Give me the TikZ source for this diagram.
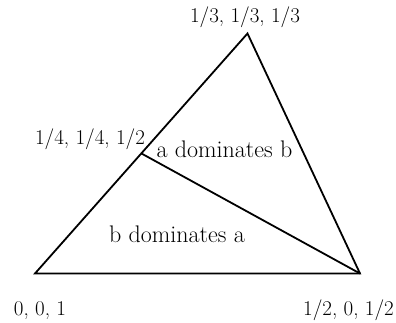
\documentclass[tikz,border=0pt]{standalone}
\usetikzlibrary{positioning}
\begin{document}
\begin{tikzpicture}[x=1pt, y=-1pt, every node/.style={font=\fontsize{21}{23}\selectfont, inner sep=0pt, anchor=base},
  region/.style={font=\fontsize{24}{26}\selectfont}]
\useasboundingbox (0,0) rectangle (396,323);
\coordinate (apex) at (247.5,33.5);
\coordinate (vleft) at (35,273.5);
\coordinate (vright) at (360,273.5);
\coordinate (split) at (141.5,153.5);
\node (lapex) at (245,23) {1/3, 1/3, 1/3};
\node (lsplit) at (90,145) {1/4, 1/4, 1/2};
\node (lleft) at (40,315) {0, 0, 1};
\node (lright) at (348.5,315) {1/2, 0, 1/2};
\node[region] (adom) at (224.5,158) {a dominates b};
\node[region] (bdom) at (177,242) {b dominates a};
\draw[line width=1.8pt] (vleft)--(vright)--(apex)--cycle;
\draw[line width=1.8pt] (split)--(vright);
\end{tikzpicture}
\end{document}
